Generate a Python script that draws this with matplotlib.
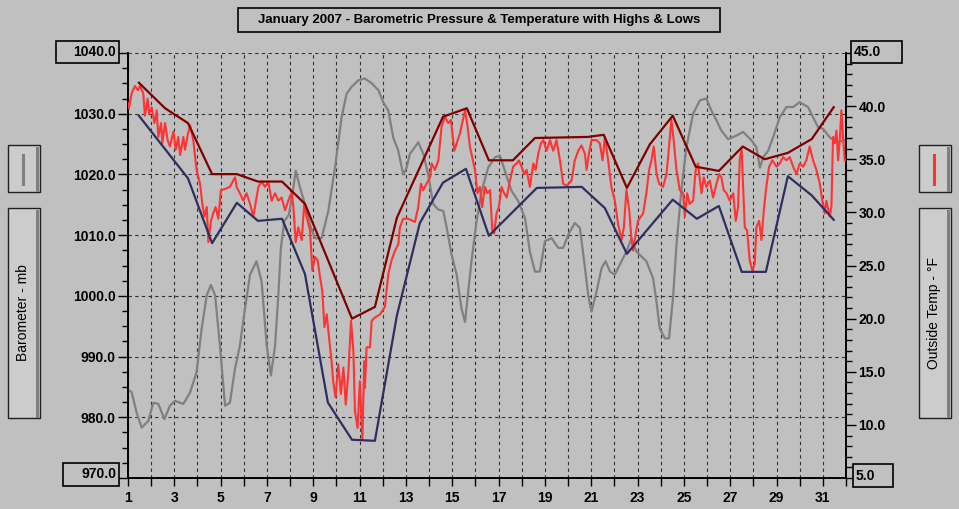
import matplotlib
matplotlib.use("Agg")
import matplotlib.pyplot as plt
from matplotlib.patches import Rectangle
from matplotlib.ticker import MultipleLocator, FixedLocator

# ---------------- data ----------------
baro_day = [1.00, 1.16, 1.37, 1.59, 1.88, 2.09, 2.31, 2.57, 2.81, 3.03, 3.39, 3.68, 3.96, 4.18, 4.40, 4.58, 4.76, 4.97,
            5.19, 5.40, 5.62, 5.83, 6.05, 6.27, 6.55, 6.77, 6.99, 7.17, 7.35, 7.49, 7.60, 7.75, 7.95, 8.14, 8.24, 8.43,
            8.64, 8.86, 9.07, 9.36, 9.65, 9.94, 10.22, 10.44, 10.65, 10.94, 11.23, 11.52, 11.81, 12.02, 12.24, 12.45,
            12.67, 12.88, 13.03, 13.17, 13.39, 13.53, 13.75, 13.96, 14.18, 14.40, 14.61, 14.76, 14.97, 15.19, 15.40,
            15.55, 15.69, 15.83, 16.05, 16.27, 16.55, 16.84, 17.06, 17.27, 17.56, 17.85, 18.14, 18.35, 18.57, 18.78,
            19.00, 19.29, 19.58, 19.79, 20.01, 20.29, 20.51, 20.73, 20.87, 21.01, 21.23, 21.45, 21.62, 21.81, 22.02,
            22.23, 22.52, 22.74, 22.95, 23.38, 23.67, 23.82, 23.96, 24.18, 24.36, 24.54, 24.68, 24.90, 25.11, 25.40,
            25.69, 25.97, 26.19, 26.41, 26.62, 26.91, 27.27, 27.56, 27.92, 28.13, 28.28, 28.42, 28.64, 28.85, 29.14,
            29.43, 29.72, 30.00, 30.36, 30.58, 30.79, 31.01, 31.30, 31.59, 31.95]
baro_mb = [984.6, 984.1, 980.8, 978.3, 979.4, 982.4, 982.2, 979.7, 981.9, 982.7, 982.2, 984.1, 987.4, 994.6, 1000.1,
           1001.8, 1000.1, 991.8, 981.9, 982.4, 988.0, 991.8, 997.9, 1003.5, 1005.7, 1002.3, 991.8, 986.9, 991.8,
           1000.1, 1007.9, 1012.3, 1013.4, 1017.8, 1020.6, 1017.8, 1015.1, 1011.7, 1009.5, 1009.5, 1014.0, 1021.2,
           1029.4, 1033.3, 1034.4, 1035.5, 1035.8, 1035.0, 1033.9, 1031.9, 1030.5, 1026.1, 1023.9, 1020.0, 1021.1,
           1023.4, 1024.5, 1025.3, 1023.4, 1020.0, 1015.1, 1014.2, 1014.0, 1011.2, 1006.8, 1003.5, 997.9, 995.7,
           1000.7, 1005.7, 1012.3, 1017.3, 1021.1, 1022.8, 1023.1, 1020.6, 1017.3, 1015.6, 1012.8, 1007.3, 1004.0,
           1004.0, 1009.0, 1009.5, 1007.9, 1007.9, 1010.1, 1012.0, 1011.2, 1004.6, 1000.1, 997.4, 1000.7, 1004.6,
           1005.7, 1004.0, 1003.5, 1005.1, 1007.3, 1009.5, 1007.3, 1005.7, 1002.9, 999.0, 994.6, 993.0, 993.0,
           1000.1, 1008.4, 1017.8, 1024.5, 1030.0, 1032.2, 1032.5, 1030.5, 1028.9, 1027.2, 1025.8, 1026.4, 1027.0,
           1025.6, 1024.5, 1021.1, 1022.8, 1023.9, 1026.1, 1029.4, 1031.1, 1031.1, 1031.9, 1031.1, 1029.4, 1027.8,
           1027.5, 1026.1, 1025.3, 1025.6]

temp_day = [1.00, 1.04, 1.16, 1.30, 1.42, 1.52, 1.66, 1.73, 1.85, 1.91, 2.02, 2.14, 2.24, 2.31, 2.43, 2.48, 2.60, 2.71,
            2.81, 2.96, 3.06, 3.17, 3.25, 3.39, 3.46, 3.58, 3.68, 3.82, 3.96, 4.11, 4.21, 4.30, 4.40, 4.47, 4.58, 4.68,
            4.78, 4.90, 5.01, 5.19, 5.40, 5.62, 5.69, 5.83, 5.98, 6.12, 6.27, 6.41, 6.48, 6.63, 6.77, 6.91, 7.06, 7.20,
            7.35, 7.49, 7.63, 7.78, 7.92, 8.07, 8.14, 8.24, 8.35, 8.50, 8.61, 8.71, 8.86, 8.96, 9.07, 9.19, 9.29, 9.39,
            9.48, 9.58, 9.68, 9.79, 9.86, 9.96, 10.08, 10.19, 10.30, 10.40, 10.51, 10.63, 10.73, 10.80, 10.91, 11.01,
            11.12, 11.20, 11.23, 11.30, 11.45, 11.52, 11.66, 11.88, 12.09, 12.24, 12.38, 12.53, 12.67, 12.74, 12.88,
            13.10, 13.39, 13.53, 13.65, 13.75, 13.89, 14.04, 14.11, 14.25, 14.40, 14.54, 14.68, 14.83, 14.94, 15.09,
            15.19, 15.33, 15.40, 15.55, 15.66, 15.76, 15.86, 15.98, 16.09, 16.19, 16.29, 16.41, 16.52, 16.63, 16.73,
            16.81, 16.91, 17.01, 17.13, 17.24, 17.35, 17.49, 17.63, 17.78, 17.88, 17.99, 18.11, 18.21, 18.35, 18.50,
            18.60, 18.71, 18.83, 18.93, 19.07, 19.22, 19.36, 19.50, 19.65, 19.79, 19.94, 20.15, 20.29, 20.44, 20.58,
            20.73, 20.80, 20.90, 21.01, 21.23, 21.37, 21.49, 21.59, 21.73, 21.87, 22.02, 22.16, 22.31, 22.41, 22.52,
            22.64, 22.74, 22.81, 22.92, 23.02, 23.24, 23.38, 23.50, 23.60, 23.70, 23.82, 23.93, 24.10, 24.25, 24.36,
            24.46, 24.56, 24.68, 24.82, 24.97, 25.04, 25.14, 25.25, 25.40, 25.51, 25.61, 25.76, 25.86, 25.97, 26.12,
            26.26, 26.41, 26.52, 26.62, 26.72, 26.84, 26.98, 27.13, 27.24, 27.34, 27.41, 27.49, 27.56, 27.63, 27.73,
            27.84, 27.96, 28.06, 28.13, 28.25, 28.35, 28.45, 28.56, 28.68, 28.82, 29.00, 29.14, 29.28, 29.43, 29.57,
            29.72, 29.86, 30.00, 30.15, 30.29, 30.43, 30.58, 30.72, 30.87, 30.98, 31.08, 31.15, 31.30, 31.37, 31.44,
            31.51, 31.59, 31.66, 31.73, 31.80, 31.87, 31.95]
temp_f = [40.3, 39.8, 41.2, 41.9, 41.5, 41.9, 41.2, 39.1, 40.7, 39.3, 39.9, 38.4, 39.6, 37.1, 38.4, 36.5, 38.4, 36.8,
          36.2, 37.6, 35.9, 37.1, 35.4, 37.1, 35.9, 37.3, 38.2, 36.8, 34.0, 32.7, 30.8, 29.6, 30.5, 27.2, 29.2, 29.9,
          30.5, 29.4, 32.1, 32.2, 32.4, 33.3, 32.4, 31.8, 31.1, 31.8, 30.8, 29.6, 30.5, 32.4, 32.9, 32.4, 32.9, 31.1,
          31.8, 31.1, 31.4, 30.2, 31.1, 31.9, 30.5, 27.2, 28.6, 27.4, 30.8, 29.6, 28.3, 24.5, 25.8, 25.5, 23.9, 22.6,
          19.2, 20.4, 18.2, 16.0, 14.1, 12.6, 15.7, 12.9, 15.4, 11.9, 14.8, 19.8, 17.0, 11.3, 9.7, 14.1,
          8.6, 16.0, 13.5, 17.3, 17.3, 19.8, 20.1, 20.4, 21.1, 24.2, 25.5, 26.4, 27.0, 28.6, 29.4,
          29.4, 29.1, 30.5, 32.7, 32.1, 32.7, 33.3, 34.6, 34.0, 34.9, 38.1, 39.0, 38.4, 38.7, 35.8,
          36.5, 37.4, 38.1, 39.6, 38.1, 36.2, 35.2, 34.0, 31.8, 32.4, 30.5, 32.4, 31.8, 32.1, 28.3,
          28.0, 29.9, 30.5, 32.4, 31.8, 31.4, 33.0, 34.3, 34.6, 34.9, 34.3, 33.6, 34.0, 32.4, 34.6,
          34.0, 35.5, 36.5, 36.8, 35.8, 36.8, 35.8, 36.8, 34.9, 32.7, 32.5, 33.0, 34.9, 35.8, 36.3,
          35.5, 34.0, 35.5, 36.8, 36.8, 36.5, 34.9, 37.1, 34.9, 32.4, 31.1, 28.9, 27.4, 28.6, 32.1,
          30.2, 27.4, 26.4, 28.0, 29.2, 29.9, 31.8, 34.0, 34.9, 36.2, 33.6, 32.7, 32.4, 33.6, 36.2,
          38.7, 36.8, 34.0, 32.1, 31.8, 29.6, 31.8, 30.8, 31.1, 34.0, 34.6, 31.8, 33.3, 32.4, 33.0,
          31.4, 32.7, 33.6, 33.3, 32.1, 31.8, 31.1, 31.8, 29.2, 30.5, 34.9, 36.0, 32.4, 28.6, 28.3,
          25.5, 24.5, 25.2, 28.6, 29.2, 27.4, 30.2, 32.4, 34.3, 34.9, 34.3, 34.6, 35.2, 34.9, 35.2,
          34.3, 33.6, 34.6, 34.3, 34.9, 36.2, 34.9, 34.0, 32.7, 31.1, 29.9, 31.1, 29.6, 30.5, 37.1,
          36.5, 37.7, 34.9, 36.8, 39.6, 37.1, 34.9]

high_day = [1.47, 2.60, 3.59, 4.63, 5.70, 6.61, 7.65, 8.64, 10.67, 11.66, 12.61, 14.60, 15.63, 16.58, 17.62, 18.57,
            20.85, 21.54, 22.54, 23.53, 24.52, 25.51, 26.51, 27.54, 28.49, 29.49, 30.52, 31.47]
high_f = [42.2, 39.8, 38.4, 33.6, 33.6, 32.9, 32.9, 30.8, 20.0, 21.1, 29.5, 39.0, 39.8, 34.9, 34.9, 37.0,
          37.1, 37.3, 32.3, 36.4, 39.1, 34.3, 33.9, 36.2, 35.0, 35.6, 36.9, 39.9]

low_day = [1.47, 3.59, 4.63, 5.70, 6.61, 7.65, 8.64, 9.63, 10.67, 11.66, 12.61, 13.60, 14.60, 15.59, 16.58, 18.65,
           20.59, 21.59, 22.54, 24.52, 25.56, 26.51, 27.50, 28.54, 29.49, 30.52, 31.47]
low_f = [39.1, 33.2, 27.1, 30.9, 29.2, 29.4, 24.2, 12.1, 8.6, 8.5, 20.3, 29.0, 32.8, 34.1, 27.8, 32.3,
         32.4, 30.4, 26.1, 31.2, 29.4, 30.6, 24.4, 24.4, 33.4, 31.6, 29.3]

x_ticks = list(range(1, 33))
x_labels = [str(d) if d % 2 == 1 else "" for d in x_ticks]
title = "January 2007 - Barometric Pressure & Temperature with Highs & Lows"

# ---------------- figure ----------------
W, H = 959, 509
BG = "#c0c0c0"
FONT = "Liberation Sans"
fig = plt.figure(figsize=(W / 100, H / 100), dpi=100, facecolor=BG)

def fx(px):
    return px / W

def fy(py):
    return 1 - py / H

L, R, T, B = 128, 846, 53, 478
ax = fig.add_axes([fx(L), fy(B), fx(R - L), (B - T) / H])
ax.set_facecolor(BG)
ax.set_xlim(1, 32)
ax.set_ylim(970, 1040)
ax2 = ax.twinx()
ax2.set_ylim(5, 45)

for a in (ax, ax2):
    a.spines["top"].set_visible(False)
    for s in a.spines.values():
        s.set_linewidth(1.2)
        s.set_color("black")

ax.xaxis.set_major_locator(FixedLocator(x_ticks))
ax.set_xticklabels(x_labels)
ax.yaxis.set_major_locator(FixedLocator(list(range(970, 1041, 10))))
ax.yaxis.set_minor_locator(MultipleLocator(2.5))
ax.set_yticklabels([f"{v:.1f}" if 970 < v < 1040 else "" for v in range(970, 1041, 10)])
ax.grid(True, which="major", color="#303030", linestyle=(0, (3, 3)), linewidth=0.8)
ax.set_axisbelow(True)

ax.tick_params(axis="x", which="major", length=6, width=1, direction="out", pad=3, labelsize=10)
ax.tick_params(axis="y", which="major", length=7, width=1, pad=2, labelsize=10)
ax.tick_params(axis="y", which="minor", left=True, length=4, width=1)

ax2.yaxis.set_major_locator(FixedLocator(list(range(5, 46, 5))))
ax2.yaxis.set_minor_locator(MultipleLocator(1))
ax2.set_yticklabels([f"{v:.1f}" if 5 < v < 45 else "" for v in range(5, 46, 5)])
ax2.tick_params(axis="y", which="major", length=7, width=1, pad=2, labelsize=10)
ax2.tick_params(axis="y", which="minor", right=True, length=4, width=1)

for lab in ax.get_xticklabels() + ax.get_yticklabels() + ax2.get_yticklabels():
    lab.set_fontfamily(FONT)
    lab.set_fontweight("bold")

ax.plot(baro_day, baro_mb, color="#808080", lw=1.6, zorder=3)
ax2.plot(temp_day, temp_f, color="#ff3333", lw=1.5, zorder=4)
ax2.plot(high_day, high_f, color="#800000", lw=1.6, zorder=5)
ax2.plot(low_day, low_f, color="#2e2e60", lw=1.6, zorder=5)

def box_text(x0, y0, x1, y1, txt, ha="right"):
    fig.patches.append(Rectangle((fx(x0), fy(y1)), fx(x1 - x0), (y1 - y0) / H,
                                 transform=fig.transFigure, facecolor=BG, edgecolor="black", lw=1.2))
    tx = fx(x1 - 3) if ha == "right" else fx(x0 + 3)
    fig.text(tx, fy((y0 + y1) / 2), txt, ha=ha, va="center", fontsize=10,
             fontweight="bold", fontfamily=FONT)

box_text(56, 41, 119, 63, "1040.0")
box_text(63, 463, 119, 486, "970.0")
box_text(851, 41, 902, 63, "45.0", ha="left")
box_text(853, 464, 893, 487, "5.0", ha="left")

fig.patches.append(Rectangle((fx(238), fy(32)), fx(482), 24 / H, transform=fig.transFigure,
                             facecolor=BG, edgecolor="black", lw=1.2))
fig.text(fx(479), fy(20), title, ha="center", va="center", fontsize=9.5,
         fontweight="bold", fontfamily=FONT)

def button(x0, y0, x1, y1):
    fig.patches.append(Rectangle((fx(x0), fy(y1)), fx(x1 - x0), (y1 - y0) / H,
                                 transform=fig.transFigure, facecolor="#cccccc",
                                 edgecolor="#202020", lw=1.0))
    fig.patches.append(Rectangle((fx(x1 - 4), fy(y1)), fx(3), (y1 - y0 - 2) / H,
                                 transform=fig.transFigure, facecolor="#808080", lw=0))

button(8, 145, 40, 192)
button(8, 208, 40, 418)
button(919, 145, 951, 192)
button(919, 208, 951, 418)
fig.lines.append(plt.Line2D([fx(23), fx(23)], [fy(155), fy(184)], transform=fig.transFigure,
                            color="#808080", lw=2.2))
fig.lines.append(plt.Line2D([fx(934), fx(934)], [fy(155), fy(184)], transform=fig.transFigure,
                            color="#ff3333", lw=2.2))
fig.text(fx(23), fy(313), "Barometer - mb", rotation=90, ha="center", va="center",
         fontsize=10, fontfamily=FONT)
fig.text(fx(934), fy(313), "Outside Temp - °F", rotation=90, ha="center", va="center",
         fontsize=10, fontfamily=FONT)

fig.savefig("out.png", dpi=100, facecolor=BG)
